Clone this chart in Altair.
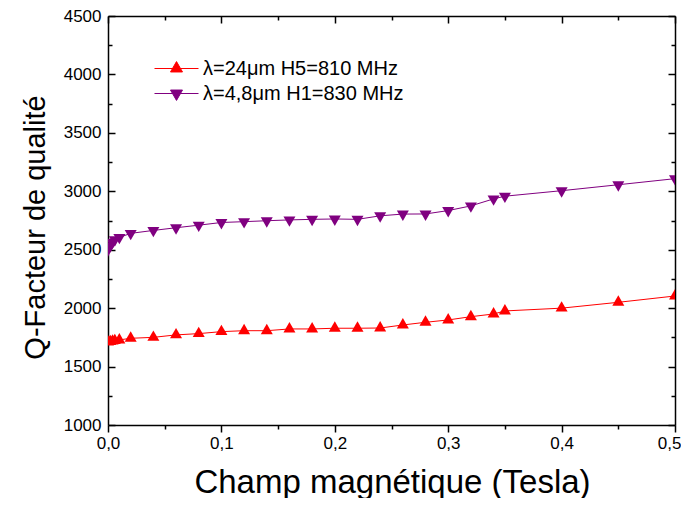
import altair as alt
import pandas as pd

# Champ magnétique (Tesla)
x_vals = [0, 0.002, 0.004, 0.006, 0.01, 0.02, 0.04, 0.06, 0.08, 0.10, 0.12, 0.14,
          0.16, 0.18, 0.20, 0.22, 0.24, 0.26, 0.28, 0.30, 0.32, 0.34, 0.35, 0.40,
          0.45, 0.50]
# Q-Facteur, lambda = 24 um, H5 = 810 MHz
q_red = [1710, 1714, 1718, 1722, 1728, 1742, 1750, 1771, 1782, 1799, 1807, 1807,
         1822, 1822, 1828, 1828, 1830, 1856, 1879, 1899, 1927, 1950, 1976, 2000,
         2050, 2104]
# Q-Facteur, lambda = 4,8 um, H1 = 830 MHz
q_purple = [2500, 2535, 2565, 2585, 2605, 2640, 2665, 2688, 2710, 2733, 2740, 2748,
            2755, 2760, 2763, 2760, 2790, 2805, 2806, 2835, 2875, 2935, 2958, 3005,
            3056, 3108]

series = ["λ=24μm H5=810 MHz", "λ=4,8μm H1=830 MHz"]
colors = ["#ff0000", "#800080"]

x_ticks = [i * 0.05 for i in range(11)]
y_ticks = list(range(1000, 4501, 250))

rows = []
for s, ys in zip(series, [q_red, q_purple]):
    for xv, yv in zip(x_vals, ys):
        rows.append({"champ": xv, "q": yv, "serie": s})
df = pd.DataFrame(rows)

FONT = "Liberation Sans"

# centroid-centred triangles (as in Origin)
tri_up = "M0,-0.693L0.6,0.347L-0.6,0.347Z"
tri_down = "M0,0.693L0.6,-0.347L-0.6,-0.347Z"
# legend symbols: line through a triangle (drawn wider than the layout box)
leg_up = "M-2,0H2M0,-0.63L0.545,0.315L-0.545,0.315Z"
leg_down = "M-2,0H2M0,0.63L0.545,-0.315L-0.545,-0.315Z"

xscale = alt.Scale(domain=[0, 0.5], nice=False, zero=False)
yscale = alt.Scale(domain=[1000, 4500], nice=False, zero=False)
cscale = alt.Scale(domain=series, range=colors)

major_x = "round(datum.value*20) % 2 === 0"
major_y = "datum.value % 500 === 0"

x_bottom = alt.Axis(
    values=x_ticks, orient="bottom", grid=False,
    labelExpr=f"{major_x} ? replace(format(datum.value, '.1f'), '.', ',') : ''",
    tickSize={"expr": f"{major_x} ? 7 : 4"},
    labelAlign={"expr": "datum.value > 0.49 ? 'right' : 'center'"},
    labelOffset={"expr": "datum.value > 0.49 ? 6 : 0"},
    labelFont=FONT, labelFontSize=17, labelColor="black", labelPadding=3,
    labelFlush=False,
    domainColor="black", domainWidth=1.5, tickColor="black", tickWidth=1.5,
    title="Champ magnétique (Tesla)", titleFont=FONT, titleFontSize=33,
    titleFontWeight="normal", titleColor="black", titleX=284, titleY=57,
    titleBaseline="middle", titleAlign="center",
)
y_left = alt.Axis(
    values=y_ticks, orient="left", grid=False, format="d",
    labelExpr=f"{major_y} ? datum.label : ''",
    tickSize={"expr": f"{major_y} ? -7 : -4"},
    labelFont=FONT, labelFontSize=17, labelColor="black", labelPadding=14,
    labelFlush=False,
    domainColor="black", domainWidth=1.5, tickColor="black", tickWidth=1.5,
    title="Q-Facteur de qualité", titleFont=FONT, titleFontSize=29,
    titleFontWeight="normal", titleColor="black", titleX=-73, titleY=211,
    titleAngle=-90, titleBaseline="middle", titleAlign="center",
)
x_top = alt.Axis(
    values=x_ticks, orient="top", grid=False, labels=False, title=None,
    tickSize={"expr": f"{major_x} ? -7 : -4"},
    domainColor="black", domainWidth=1.5, tickColor="black", tickWidth=1.5,
)
y_right = alt.Axis(
    values=y_ticks, orient="right", grid=False, labels=False, title=None,
    tickSize={"expr": f"{major_y} ? -7 : -4"},
    domainColor="black", domainWidth=1.5, tickColor="black", tickWidth=1.5,
)

base = alt.Chart(df)

lines = base.mark_line(strokeWidth=1, clip=True).encode(
    x=alt.X("champ:Q", scale=xscale, axis=x_bottom),
    y=alt.Y("q:Q", scale=yscale, axis=y_left),
    color=alt.Color("serie:N", scale=cscale, legend=None),
)

points = base.mark_point(filled=True, size=400, opacity=1, clip=True).encode(
    x=alt.X("champ:Q", scale=xscale, axis=x_top),
    y=alt.Y("q:Q", scale=yscale, axis=y_right),
    color=alt.Color("serie:N", scale=cscale, legend=None),
    shape=alt.Shape("serie:N", scale=alt.Scale(domain=series, range=[tri_up, tri_down]),
                    legend=None),
)

leg = alt.Legend(
    orient="none", legendX=57, legendY=41, title=None,
    labelFont=FONT, labelFontSize=20, labelColor="black", labelOffset=15,
    labelLimit=600, symbolSize=484, symbolStrokeWidth=1, symbolOpacity=1,
    rowPadding=3, padding=0,
)
legend_layer = base.mark_point(filled=True, size=484, opacity=0, strokeWidth=1).encode(
    x=alt.X("champ:Q", scale=xscale, axis=None),
    y=alt.Y("q:Q", scale=yscale, axis=None),
    fill=alt.Fill("serie:N", scale=cscale, legend=leg),
    stroke=alt.Stroke("serie:N", scale=cscale, legend=leg),
    shape=alt.Shape("serie:N", scale=alt.Scale(domain=series, range=[leg_up, leg_down]),
                    legend=leg),
)

chart = (
    alt.layer(lines, points, legend_layer)
    .resolve_axis(x="independent", y="independent")
    .resolve_scale(shape="independent", color="independent", fill="independent",
                   stroke="independent")
    .properties(
        width=567, height=409,
        autosize=alt.AutoSizeParams(type="none"),
        padding={"left": 100, "top": 8, "right": 6, "bottom": 73},
        background="white",
    )
    .configure_view(stroke=None)
)

chart.save("out.html", embed_options={"renderer": "svg", "actions": False})
